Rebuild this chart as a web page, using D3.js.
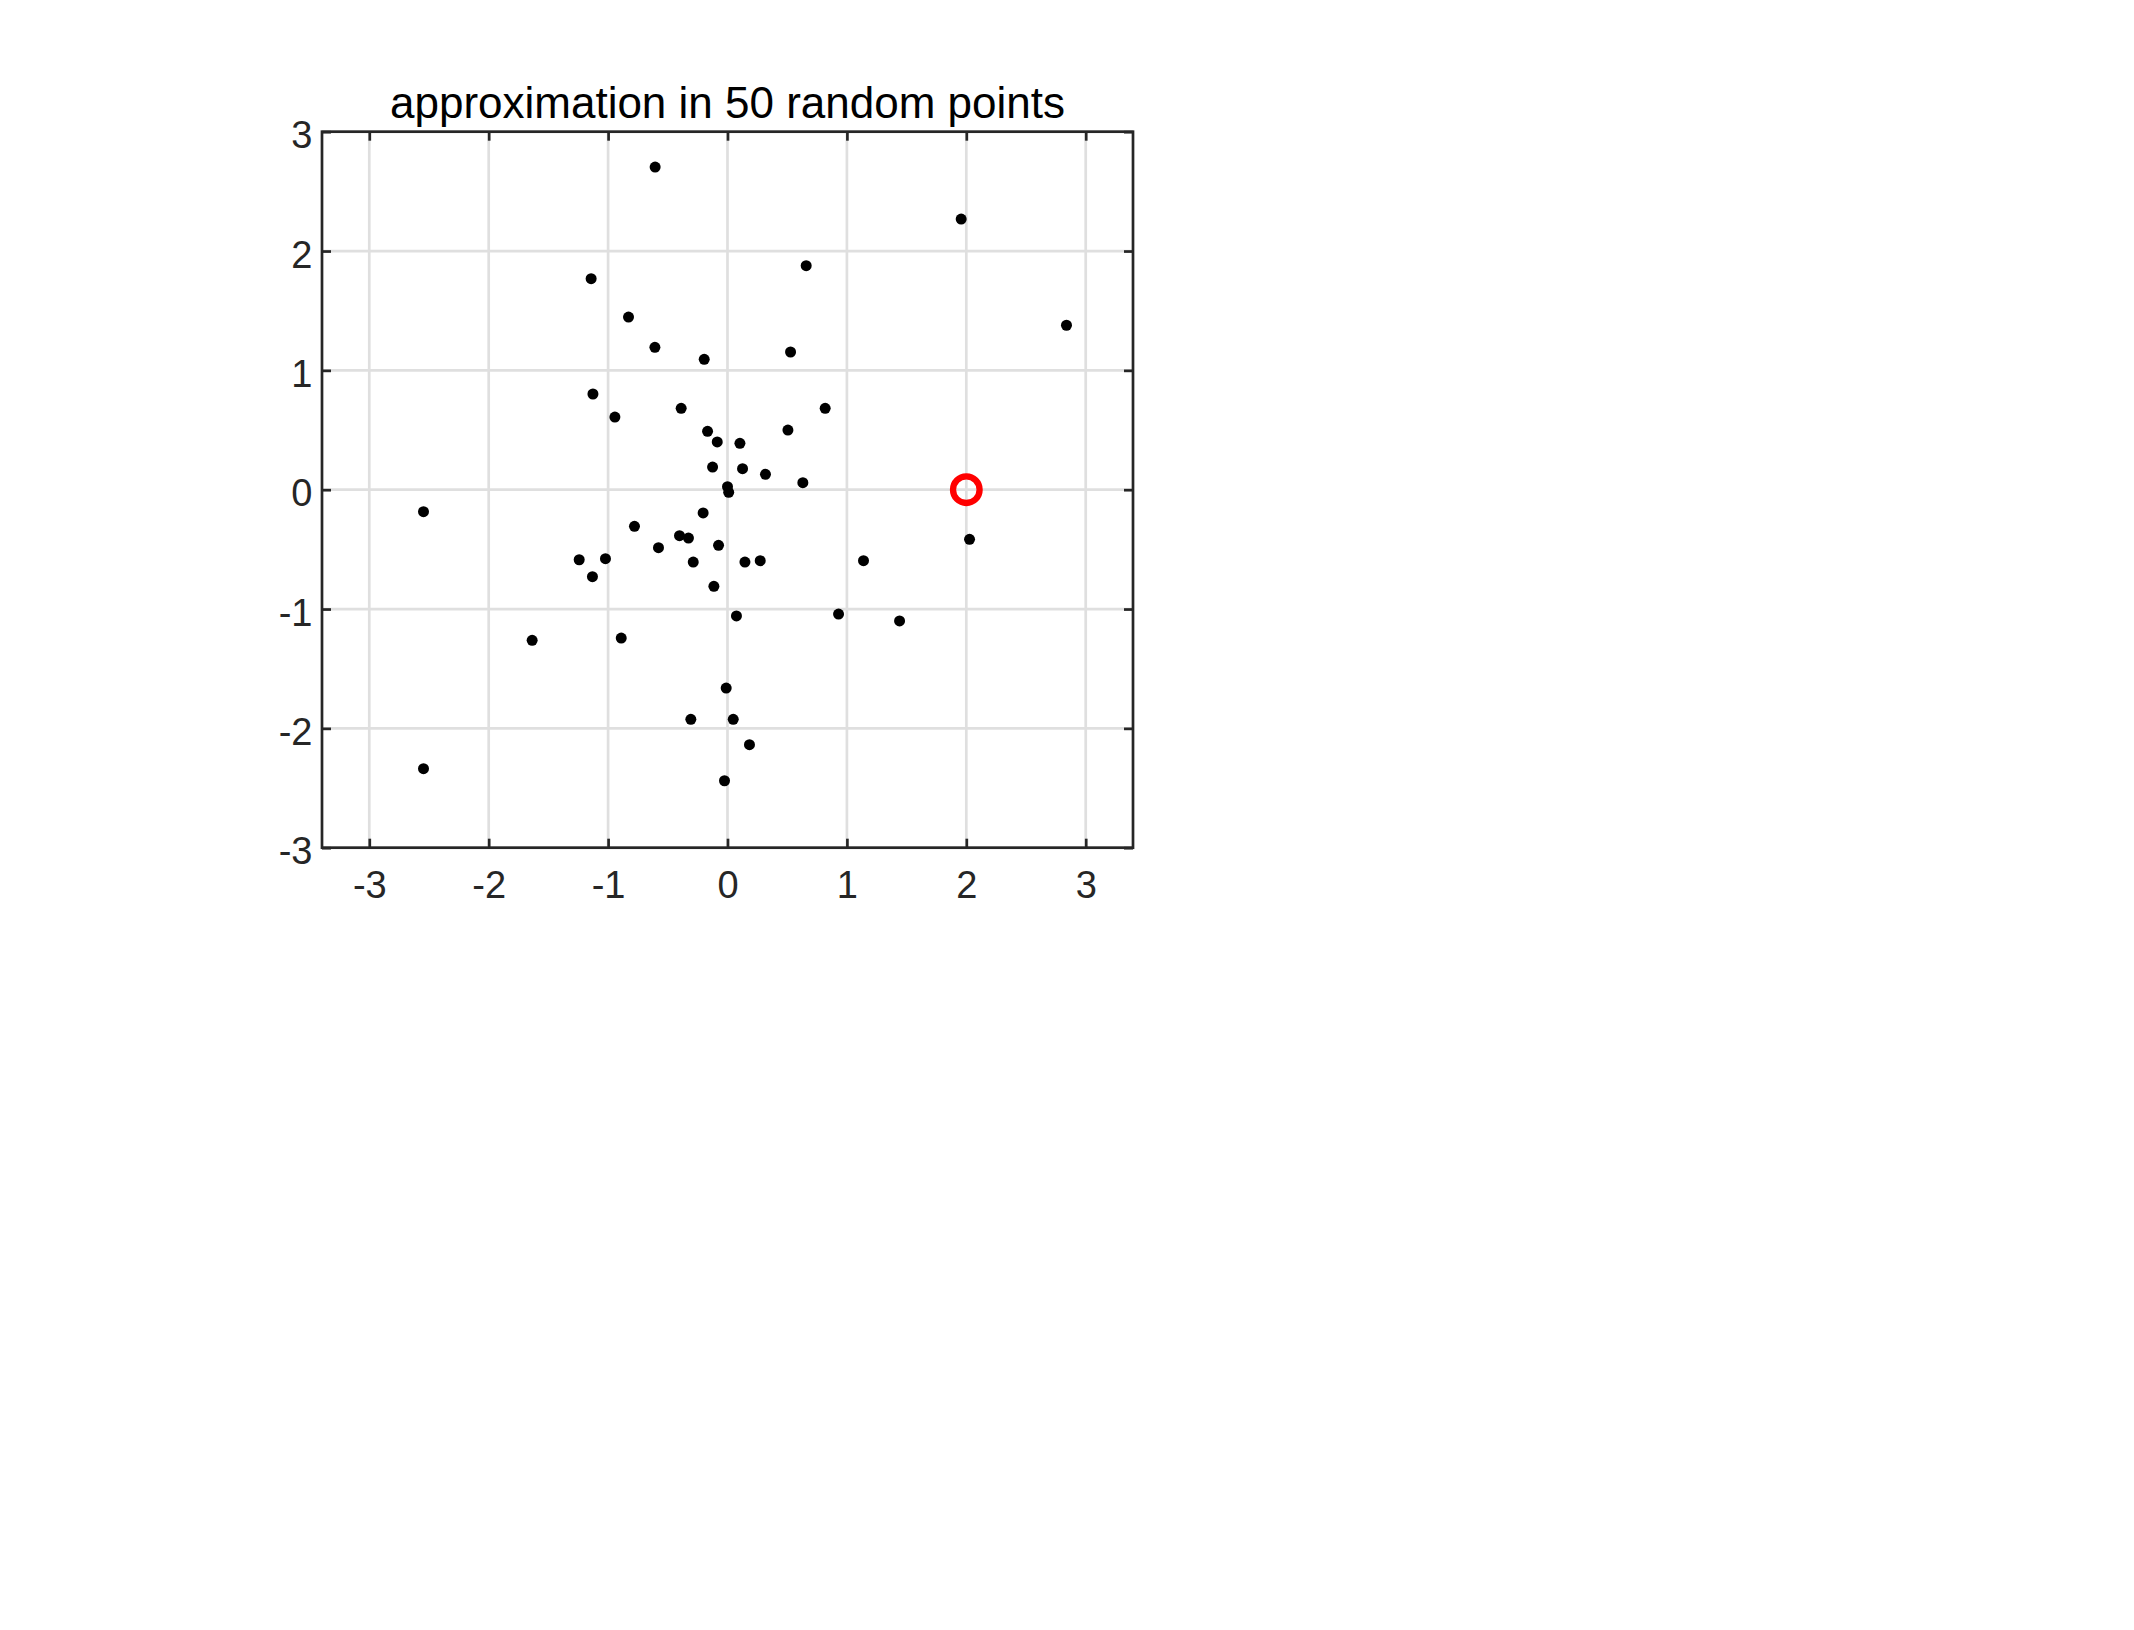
<!DOCTYPE html>
<html>
<head>
<meta charset="utf-8">
<script src="https://cdn.jsdelivr.net/npm/d3@7"></script>
<style>
  body { margin: 0; background: #fff; }
  svg { display: block; }
  text { font-family: "Liberation Sans", Arial, sans-serif; }
</style>
</head>
<body>
<div id="main"></div>
<script>
// chart values
var titleText = 'approximation in 50 random points';
var xTicks = [-3, -2, -1, 0, 1, 2, 3];
var yTicks = [-3, -2, -1, 0, 1, 2, 3];

var pointX = [-0.606, -1.142, -0.829, -0.608, -0.195, -1.127, -0.943, -0.388, -0.167, -0.086,
  -0.125, 0.000, 0.010, 1.957, 0.659, 2.839, 0.528, 0.818, 0.506, 0.104,
  0.126, 0.318, 0.631, -2.546, -0.204, -0.779, -0.402, -0.327, -0.075, -0.578,
  -1.242, -1.022, -0.287, -1.131, -0.114, -1.636, -0.890, -0.011, -0.307, -2.546,
  -0.025, 2.027, 0.146, 0.274, 1.139, 0.075, 0.930, 1.441, 0.048, 0.184];
var pointY = [2.704, 1.768, 1.447, 1.193, 1.093, 0.802, 0.609, 0.682, 0.489, 0.400,
  0.190, 0.025, -0.022, 2.268, 1.877, 1.378, 1.154, 0.682, 0.500, 0.389,
  0.176, 0.129, 0.059, -0.184, -0.195, -0.307, -0.385, -0.405, -0.466, -0.486,
  -0.587, -0.578, -0.606, -0.729, -0.810, -1.262, -1.243, -1.662, -1.924, -2.338,
  -2.439, -0.416, -0.606, -0.595, -0.595, -1.058, -1.042, -1.100, -1.924, -2.137];

// the red target point
var targetX = [2];
var targetY = [0];

// Layout parameters
var svgWidth = 2134;
var svgHeight = 1630;
var plot = { l: 322, t: 131.7, w: 811, h: 716 };
var xDomain = [-3.396, 3.396];
var yDomain = [-3, 3];

var axisColor = '#262626';
var gridColor = '#dfdfdf';
var lineW = 2.7;
var tickLen = 9;

var svg = d3.select('#main')
  .append('svg')
  .attr('width', svgWidth)
  .attr('height', svgHeight);

var xScale = d3.scaleLinear().domain(xDomain).range([0, plot.w]);
var yScale = d3.scaleLinear().domain(yDomain).range([plot.h, 0]);

var chartG = svg.append('g')
  .attr('transform', 'translate(' + [plot.l, plot.t] + ')');

// grid lines
chartG.append('g').selectAll('line')
  .data(xTicks)
  .enter()
  .append('line')
  .attr('x1', (d) => xScale(d)).attr('x2', (d) => xScale(d))
  .attr('y1', 0).attr('y2', plot.h)
  .attr('stroke', gridColor)
  .attr('stroke-width', lineW);

chartG.append('g').selectAll('line')
  .data(yTicks)
  .enter()
  .append('line')
  .attr('y1', (d) => yScale(d)).attr('y2', (d) => yScale(d))
  .attr('x1', 0).attr('x2', plot.w)
  .attr('stroke', gridColor)
  .attr('stroke-width', lineW);

// random points
chartG.append('g').selectAll('circle')
  .data(pointX.map((x, i) => [x, pointY[i]]))
  .enter()
  .append('circle')
  .attr('cx', (d) => xScale(d[0]))
  .attr('cy', (d) => yScale(d[1]))
  .attr('r', 5.5)
  .attr('fill', 'black');

// red circle
chartG.append('g').selectAll('circle')
  .data(targetX.map((x, i) => [x, targetY[i]]))
  .enter()
  .append('circle')
  .attr('cx', (d) => xScale(d[0]))
  .attr('cy', (d) => yScale(d[1]))
  .attr('r', 13.3)
  .attr('fill', 'none')
  .attr('stroke', '#ff0000')
  .attr('stroke-width', 6.3);

// axes with inward ticks
function styleAxis(g) {
  g.select('.domain').remove();
  g.selectAll('.tick line').attr('stroke', axisColor).attr('stroke-width', lineW);
  g.selectAll('.tick text')
    .attr('fill', axisColor)
    .style('font-size', '38px')
    .style('font-family', '"Liberation Sans", Arial, sans-serif');
}

chartG.append('g')
  .attr('transform', 'translate(' + [0, plot.h] + ')')
  .call(d3.axisBottom(xScale).tickValues(xTicks).tickSize(-tickLen).tickPadding(23.5).tickFormat((d) => String(d)))
  .call(styleAxis);

chartG.append('g')
  .call(d3.axisLeft(yScale).tickValues(yTicks).tickSize(-tickLen).tickPadding(9.5).tickFormat((d) => String(d)))
  .call(styleAxis)
  .selectAll('.tick text').attr('dy', '0.42em');

chartG.append('g')
  .call(d3.axisTop(xScale).tickValues(xTicks).tickSize(-tickLen).tickFormat(''))
  .call(styleAxis);

chartG.append('g')
  .attr('transform', 'translate(' + [plot.w, 0] + ')')
  .call(d3.axisRight(yScale).tickValues(yTicks).tickSize(-tickLen).tickFormat(''))
  .call(styleAxis);

// box
chartG.append('rect')
  .attr('width', plot.w)
  .attr('height', plot.h)
  .attr('fill', 'none')
  .attr('stroke', axisColor)
  .attr('stroke-width', lineW);

// title
chartG.append('text')
  .attr('x', plot.w / 2)
  .attr('y', 118.3 - plot.t)
  .attr('text-anchor', 'middle')
  .attr('fill', 'black')
  .style('font-size', '44px')
  .text(titleText);
</script>
</body>
</html>
